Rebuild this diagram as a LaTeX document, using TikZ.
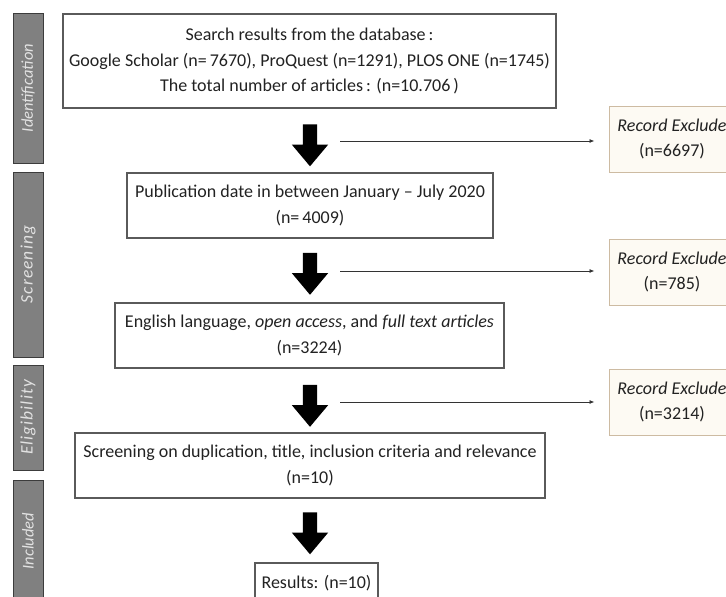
\documentclass[tikz,border=0pt]{standalone}
\usepackage{fontspec}
\setmainfont{Carlito}
\usetikzlibrary{shapes.arrows,arrows.meta}
\definecolor{boxline}{HTML}{5A5A5A}
\definecolor{txt}{HTML}{222222}
\definecolor{barfill}{HTML}{808080}
\definecolor{barline}{HTML}{3C3C3C}
\definecolor{bartext}{HTML}{E2E2E2}
\definecolor{exfill}{HTML}{FDFAF3}
\definecolor{exline}{HTML}{CDBBA2}
\begin{document}
\begin{tikzpicture}[x=1pt,y=-1pt,
  mainbox/.style={draw=boxline,line width=1.1pt,fill=white,inner sep=0pt,align=center,text=txt,
    font=\fontsize{18}{25.5}\selectfont},
  exbox/.style={draw=exline,line width=1pt,fill=exfill,inner sep=0pt,align=center,text=txt,
    font=\fontsize{18}{25.5}\selectfont,minimum width=126pt,minimum height=66pt},
  stagebar/.style={draw=barline,line width=1pt,fill=barfill,inner sep=0pt,minimum height=30pt,
    text=bartext,font=\fontsize{16.5}{18}\selectfont\itshape,rotate=90},
  widebar/.style={stagebar,font=\fontsize{17.5}{18}\selectfont\itshape\addfontfeature{LetterSpace=6}},
  bigarrow/.style={single arrow,fill=black,draw=none,shape border rotate=270,
    minimum height=42pt,single arrow head extend=11pt,inner sep=7pt,
    single arrow tip angle=80},
  sideline/.style={draw=black!80,line width=0.8pt,-{Latex[length=5pt,width=4pt]},shorten >=14pt}
]
\useasboundingbox (0,0) rectangle (726,597);
% stage bars
\node[stagebar,minimum width=150pt] (st1) at (28,88) {Identification};
\node[widebar,minimum width=185pt] (st2) at (28,264.5) {Screening};
\node[widebar,minimum width=105pt] (st3) at (28,417.5) {Eligibility};
\node[stagebar,minimum width=122pt] (st4) at (28,541) {Included};
% main boxes
\node[mainbox,minimum width=493pt,minimum height=94pt] (b1) at (309.5,61)
  {Search results from the database\,:\\Google Scholar (n=\,7670), ProQuest (n=1291), PLOS ONE (n=1745)\\The total number of articles\,: (n=10.706\,)};
\node[mainbox,minimum width=366pt,minimum height=65pt] (b2) at (310,205.5)
  {Publication date in between January -- July 2020\\(n=\,4009)};
\node[mainbox,minimum width=389pt,minimum height=65pt] (b3) at (309.5,335.5)
  {English language, \emph{open access}, and \emph{full text articles}\\(n=3224)};
\node[mainbox,minimum width=470pt,minimum height=65pt] (b4) at (310,465.5)
  {Screening on duplication, title, inclusion criteria and relevance\\(n=10)};
\node[mainbox,minimum width=123pt,minimum height=40pt] (b5) at (316.5,583)
  {Results: (n=10)};
% block arrows
\node[bigarrow] (a1) at (310,141) {};
\node[bigarrow] (a2) at (310,269.5) {};
\node[bigarrow] (a3) at (310,401.5) {};
\node[bigarrow] (a4) at (310,529) {};
% exclusion boxes
\node[exbox] (e1) at (672,139) {\emph{Record Exclude}\\(n=6697)};
\node[exbox] (e2) at (672,272) {\emph{Record Exclude}\\(n=785)};
\node[exbox] (e3) at (672,402) {\emph{Record Exclude}\\(n=3214)};
% side lines
\coordinate (s1) at (340,141);
\coordinate (s2) at (340,271);
\coordinate (s3) at (340,402);
\draw[sideline] (s1) -- (s1 -| e1.west);
\draw[sideline] (s2) -- (s2 -| e2.west);
\draw[sideline] (s3) -- (s3 -| e3.west);
\end{tikzpicture}
\end{document}
